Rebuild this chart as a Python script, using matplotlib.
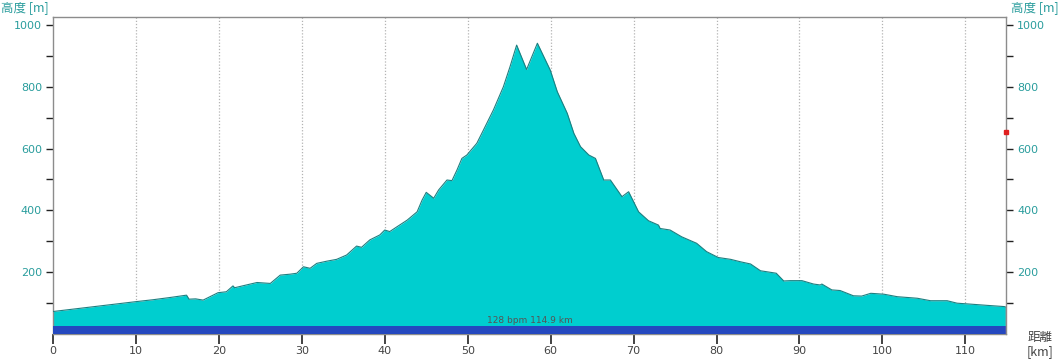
import matplotlib
matplotlib.use("Agg")
import matplotlib.pyplot as plt

# ---- data ----
dist_km = [0, 2.5, 5, 7.5, 10, 12, 14, 16.1, 16.4, 17.2, 18.1, 19.9, 20.9, 21.7, 21.9, 23.0,
           24.6, 26.2, 27.4, 28.6, 29.4, 30.2, 31.0, 31.8, 33.0, 34.2, 35.4, 36.6, 37.2,
           38.2, 39.4, 40.0, 40.6, 41.5, 42.7, 43.9, 44.5, 45.0, 45.9, 46.5, 47.5, 48.1,
           48.7, 49.3, 49.9, 51.1, 51.9, 53.1, 54.3, 55.1, 55.9, 57.1, 58.4, 59.95, 60.8,
           62.0, 62.8, 63.6, 64.6, 65.4, 66.4, 67.2, 68.6, 69.4, 70.6, 71.8, 73.0, 73.2,
           74.4, 75.8, 77.6, 78.8, 80.2, 81.7, 82.9, 84.1, 85.3, 86.5, 87.2, 88.1, 88.9,
           90.3, 91.7, 92.5, 92.7, 93.9, 94.9, 96.5, 97.5, 98.6, 100.2, 101.8, 104.2,
           105.8, 107.8, 109.0, 110.6, 112.6, 114.7, 114.9]
elev_m = [72, 80, 88, 96, 104, 110, 117, 125, 112, 113, 109, 133, 136, 155, 149, 156,
          166, 163, 190, 193, 196, 217, 212, 228, 235, 241, 255, 284, 280,
          304, 320, 336, 331, 347, 368, 395, 433, 458, 439, 466, 498, 496,
          530, 568, 579, 617, 660, 725, 800, 865, 935, 856, 941, 854, 784,
          714, 649, 606, 579, 568, 498, 498, 444, 460, 395, 366, 352, 341,
          336, 314, 293, 266, 247, 241, 233, 226, 204, 199, 196, 171, 172,
          172, 161, 158, 161, 142, 140, 123, 122, 131, 128, 120, 115,
          107, 107, 99, 96, 92, 88, 86]
band_top_m = 25
band_label = "128 bpm 114.9 km"
marker_dist = 114.9
marker_elev = 652
x_ticks = list(range(0, 111, 10))
y_major = [200, 400, 600, 800, 1000]
y_minor = [100, 300, 500, 700, 900]

teal_txt = "#2a9d9d"
jp = ["Noto Sans CJK JP", "DejaVu Sans"]

fig = plt.figure(figsize=(10.6, 3.6), dpi=100)
ax = fig.add_axes([53/1060, 1 - 333.75/360, (1006-53)/1060, (333.75-17)/360])
ax.set_xlim(0, 114.9)
ax.set_ylim(0, 1026)

# grid
for xt in x_ticks[1:]:
    ax.axvline(xt, color="#b4b4b4", lw=0.9, ls=(0, (1, 1.5)), zorder=1)

ax.fill_between(dist_km, elev_m, 0, color="#00cecf", zorder=2, lw=0)
ax.plot(dist_km, elev_m, color="#1d7f80", lw=0.8, zorder=3)
ax.axhspan(0, band_top_m, color="#2448bf", zorder=4, lw=0)
ax.text(57.45, band_top_m + 3, band_label, ha="center", va="bottom", fontsize=6.5,
        color="#555555", zorder=5)
ax.plot([dist_km[-1] - 0.05, dist_km[-1] - 0.05], [0, elev_m[-1]], color="#e08888", lw=1, zorder=5)
ax.plot([marker_dist], [marker_elev], marker="s", color="#e02020", ms=3.5,
        clip_on=False, zorder=6)

for s in ["left", "right", "top", "bottom"]:
    ax.spines[s].set_color("#8c8c8c")
    ax.spines[s].set_linewidth(1)

ax.set_xticks(x_ticks)
ax.set_xticklabels([str(v) for v in x_ticks])
ax.tick_params(axis="x", direction="out", length=7, width=1.2, color="#222222",
               labelsize=8, labelcolor="#444444", pad=2)
ax.set_yticks(y_major)
ax.set_yticks(y_minor, minor=True)
ax.set_yticklabels([str(v) for v in y_major])
ax.tick_params(axis="y", which="both", direction="out", length=5, width=1.0,
               color="#222222", left=True, right=True, labelleft=True, labelright=True,
               labelsize=8, labelcolor=teal_txt, pad=3)

fig.text(1/1060, 1 - 8/360, "高度 [m]", family=jp, fontsize=9, color=teal_txt,
         ha="left", va="center")
fig.text(1059/1060, 1 - 8/360, "高度 [m]", family=jp, fontsize=9, color=teal_txt,
         ha="right", va="center")
fig.text(1040/1060, 1 - 338/360, "距離", family=jp, fontsize=9, color="#444444",
         ha="center", va="center")
fig.text(1040/1060, 1 - 352/360, "[km]", family=jp, fontsize=9, color="#444444",
         ha="center", va="center")

fig.savefig("out.png", dpi=100)
